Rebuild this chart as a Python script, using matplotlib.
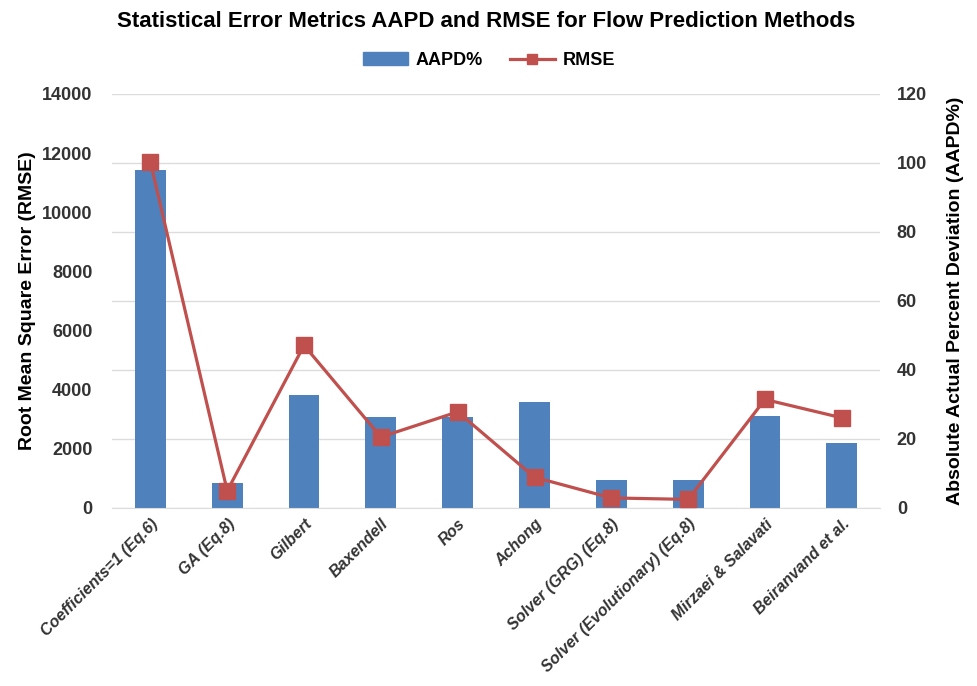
import numpy as np
import matplotlib
matplotlib.use("Agg")
from matplotlib import pyplot as plt
from matplotlib.patches import Patch
from matplotlib.lines import Line2D

plt.rcParams['font.family'] = ['Liberation Sans', 'DejaVu Sans']

methods = ['Coefficients=1 (Eq.6)', 'GA (Eq.8)', 'Gilbert', 'Baxendell', 'Ros',
           'Achong', 'Solver (GRG) (Eq.8)', 'Solver (Evolutionary) (Eq.8)',
           'Mirzaei & Salavati', 'Beiranvand et al.']
aapd = [98.0, 7.2, 32.7, 26.4, 26.4, 30.8, 8.1, 8.1, 26.6, 18.9]
rmse = [11700, 580, 5500, 2400, 3250, 1040, 340, 290, 3670, 3050]

rmse_ticks = [0, 2000, 4000, 6000, 8000, 10000, 12000, 14000]
aapd_ticks = [0, 20, 40, 60, 80, 100, 120]

blue = '#4F81BD'
red = '#C0504D'
grid = '#DCDCDC'

fig = plt.figure(figsize=(9.78, 6.86), dpi=100)
ax = fig.add_axes([0.1145, 0.2595, 0.7855, 0.6035])
ax2 = ax.twinx()

x = np.arange(len(methods))

# bars on the right axis (AAPD), behind the line
ax2.bar(x, aapd, width=0.4, color=blue, zorder=2)
ax2.set_ylim(0, 120)
ax2.set_yticks(aapd_ticks)
ax2.yaxis.grid(True, color=grid, linewidth=1.0, zorder=0)
ax2.set_axisbelow(True)

# line on the left axis (RMSE)
ax.plot(x, rmse, color=red, linewidth=2.3, marker='s', markersize=12, zorder=3)
ax.set_ylim(0, 14000)
ax.set_yticks(rmse_ticks)
ax.set_xlim(-0.5, len(methods) - 0.5)
ax.set_zorder(ax2.get_zorder() + 1)
ax.patch.set_visible(False)

for a in (ax, ax2):
    for s in a.spines.values():
        s.set_visible(False)
    a.tick_params(length=0, labelsize=13, colors='#333333')
    for lab in a.get_yticklabels():
        lab.set_fontweight('bold')
ax2.spines['bottom'].set_visible(True)
ax2.spines['bottom'].set_color(grid)

ax.set_xticks(x)
ax.set_xticklabels(methods, rotation=45, ha='right', rotation_mode='anchor',
                   fontsize=11.5, fontweight='bold', fontstyle='italic')
ax.tick_params(axis='x', pad=6)
ax.tick_params(axis='y', pad=14)
ax2.tick_params(axis='y', pad=12)

ax.set_ylabel('Root Mean Square Error (RMSE)', fontsize=14, fontweight='bold', labelpad=4)
ax2.set_ylabel('Absolute Actual Percent Deviation (AAPD%)', fontsize=14,
               fontweight='bold', labelpad=14)

fig.text(0.497, 0.968, 'Statistical Error Metrics AAPD and RMSE for Flow Prediction Methods',
         ha='center', va='center', fontsize=16, fontweight='bold')

handles = [Patch(color=blue), Line2D([], [], color=red, linewidth=2.3, marker='s', markersize=7)]
fig.legend(handles, ['AAPD%', 'RMSE'], loc='center', bbox_to_anchor=(0.5, 0.912), ncol=2,
           frameon=False, prop={'weight': 'bold', 'size': 13}, handlelength=2.5,
           columnspacing=1.5, handletextpad=0.4)

fig.savefig('out.png', dpi=100)
